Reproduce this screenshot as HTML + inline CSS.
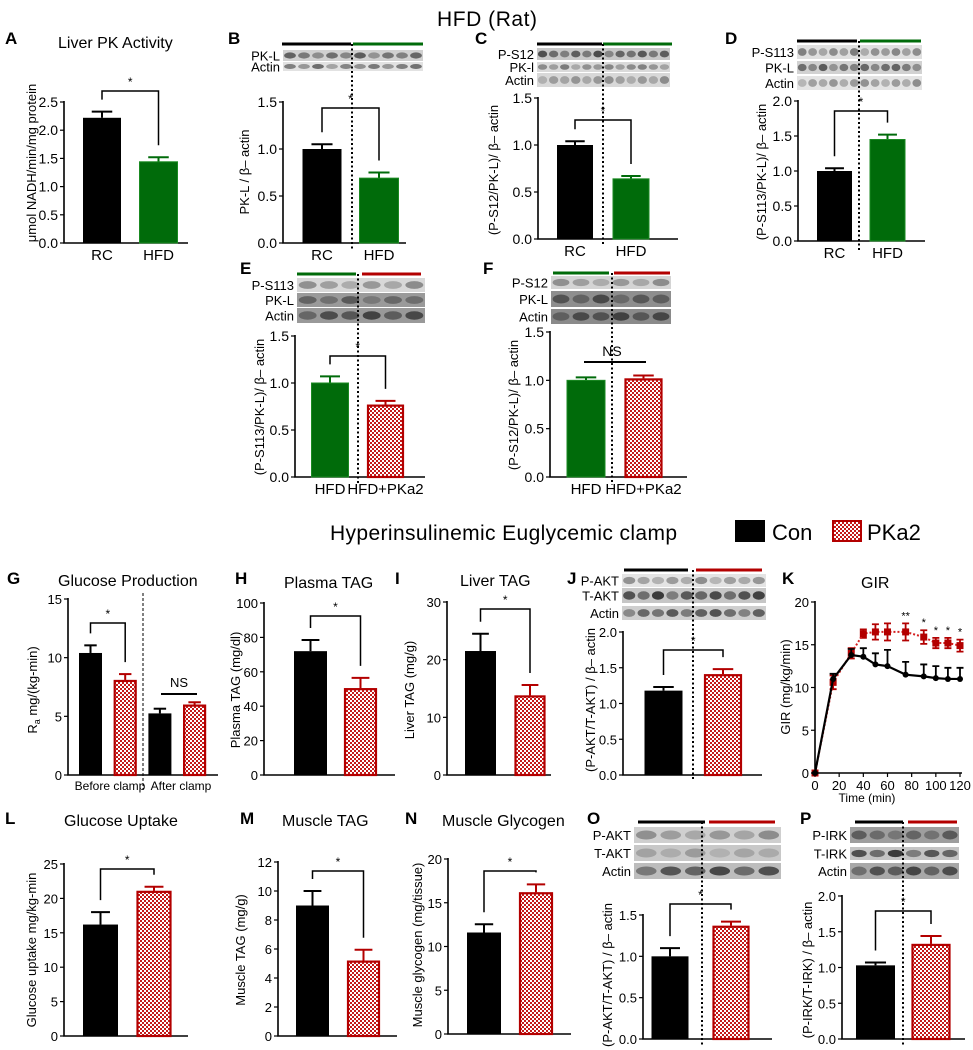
<!DOCTYPE html>
<html><head><meta charset="utf-8"><title>HFD (Rat) figure</title>
<style>
html,body{margin:0;padding:0;background:#fff;}
svg{display:block;font-family:"Liberation Sans",Arial,sans-serif;}
</style></head>
<body>
<svg id="fig" width="973" height="1050" viewBox="0 0 973 1050" xmlns="http://www.w3.org/2000/svg">
<defs>
<pattern id="chk" width="4" height="4" patternUnits="userSpaceOnUse"><rect width="4" height="4" fill="#fff"/><rect width="2" height="2" fill="#c41a1a"/><rect x="2" y="2" width="2" height="2" fill="#c41a1a"/></pattern>
</defs>
<text x="437" y="26" font-size="21" textLength="100">HFD (Rat)</text>
<text x="330" y="540" font-size="21" textLength="347">Hyperinsulinemic Euglycemic clamp</text>
<g>
<rect x="735" y="520" width="30" height="22" fill="#000"/>
<text x="772" y="540" font-size="22">Con</text>
<rect x="833" y="521" width="28" height="20" fill="url(#chk)" stroke="#b30000" stroke-width="2"/>
<text x="867" y="540" font-size="22">PKa2</text>
</g>
</svg>
<script>
// ---------- data ----------
const A_cats=["RC","HFD"]; const A_vals=[2.22,1.44]; const A_errs=[0.11,0.08];
const A_ticks=["0.0","0.5","1.0","1.5","2.0","2.5"];
const B_cats=["RC","HFD"]; const B_vals=[1.0,0.69]; const B_errs=[0.05,0.06];
const B_ticks=["0.0","0.5","1.0","1.5"];
const C_cats=["RC","HFD"]; const C_vals=[1.0,0.64]; const C_errs=[0.04,0.03];
const C_ticks=["0.0","0.5","1.0","1.5"];
const D_cats=["RC","HFD"]; const D_vals=[1.0,1.45]; const D_errs=[0.04,0.07];
const D_ticks=["0.0","0.5","1.0","1.5","2.0"];
const E_cats=["HFD","HFD+PKa2"]; const E_vals=[1.0,0.77]; const E_errs=[0.07,0.04];
const E_ticks=["0.0","0.5","1.0","1.5"];
const F_cats=["HFD","HFD+PKa2"]; const F_vals=[1.0,1.02]; const F_errs=[0.03,0.03];
const F_ticks=["0.0","0.5","1.0","1.5"];
const G_vals=[10.4,8.1,5.25,6.0]; const G_errs=[0.65,0.5,0.4,0.2];
const G_ticks=["0","5","10","15"];
const H_vals=[72,50.5]; const H_errs=[6.5,6]; const H_ticks=["0","20","40","60","80","100"];
const I_vals=[21.5,13.8]; const I_errs=[3,1.8]; const I_ticks=["0","10","20","30"];
const J_vals=[1.18,1.41]; const J_errs=[0.05,0.07]; const J_ticks=["0.0","0.5","1.0","1.5","2.0"];
const K_time=[0,15,30,40,50,60,75,90,100,110,120];
const K_con=[0,11,13.8,13.6,12.7,12.5,11.5,11.3,11.1,11.0,11.0];
const K_conErr=[0,0.6,0.7,1.0,1.3,1.9,1.5,1.4,1.4,1.3,1.3];
const K_pka=[0,10.6,14.0,16.3,16.5,16.5,16.5,15.9,15.2,15.2,14.9];
const K_pkaErr=[0.3,0.8,0.6,0.5,0.9,1.0,1.0,0.8,0.6,0.6,0.7];
const K_sigTimes=[75,90,100,110,120]; const K_sigMarks=["**","*","*","*","*"];
const K_yticks=["0","5","10","15","20"]; const K_xticks=["0","20","40","60","80","100","120"];
const L_vals=[16.2,21.1]; const L_errs=[1.8,0.6]; const L_ticks=["0","5","10","15","20","25"];
const M_vals=[9.0,5.2]; const M_errs=[1.0,0.75]; const M_ticks=["0","2","4","6","8","10","12"];
const N_vals=[11.6,16.2]; const N_errs=[0.95,0.9]; const N_ticks=["0","5","10","15","20"];
const O_vals=[1.0,1.37]; const O_errs=[0.1,0.05]; const O_ticks=["0.0","0.5","1.0","1.5"];
const P_vals=[1.03,1.33]; const P_errs=[0.04,0.11]; const P_ticks=["0.0","0.5","1.0","1.5","2.0"];

// ---------- helpers ----------
const NS="http://www.w3.org/2000/svg";
const svg=document.getElementById('fig');
function mk(tag,attrs,parent){const e=document.createElementNS(NS,tag);for(const k in attrs)e.setAttribute(k,attrs[k]);(parent||svg).appendChild(e);return e;}
function tx(x,y,s,size,anchor,parent,extra){const e=mk('text',Object.assign({x:x,y:y,'font-size':size,'text-anchor':anchor||'start'},extra||{}),parent);e.textContent=s;return e;}
const GREEN="#006b0a", RED="#b30000";

function panelGroup(name){const g=mk('g',{});


return g;}

function letter(g,ch,x,y){const t=tx(x,y,ch,17,'start',g,{'font-weight':'bold'});

}
function title(g,s,x,y){const t=tx(x,y,s,16,'start',g);

}
function ylab(g,s,cx,cy,size){const t=tx(0,0,s,size||13,'middle',g,{transform:'translate('+cx+','+cy+') rotate(-90)'});

return t;}

function barPanel(g,p){
  const vTop=parseFloat(p.ticks[p.ticks.length-1]);
  const ys=v=>p.y0-v/vTop*(p.y0-p.yTop);
  const xc=i=>p.c0+i*p.step;
  p.ys=ys;p.xc=xc;
  const ax=mk('path',{d:'M'+p.axisX+','+(p.yTop-1)+'V'+p.y0+'H'+p.xEnd,stroke:'#000','stroke-width':1.6,fill:'none'},g);
  
  
  p.ticks.forEach(t=>{const v=parseFloat(t);const y=ys(v);
    const tk=mk('line',{x1:p.axisX-4,x2:p.axisX,y1:y,y2:y,stroke:'#000','stroke-width':1.2},g);
    
    
    const tl=tx(p.axisX-6,y+5,t,p.tf||14,'end',g);
    
    });
  p.vals.forEach((v,i)=>{
    const col=p.colors[i]; const x=xc(i)-p.bw/2; const yv=ys(v); const ye=ys(v+p.errs[i]);
    const ecol=col==='pka'?RED:col;
    const el=mk('line',{x1:xc(i),x2:xc(i),y1:yv,y2:ye,stroke:ecol,'stroke-width':2},g);
    
    
    const ec=mk('line',{x1:xc(i)-p.bw*0.27,x2:xc(i)+p.bw*0.27,y1:ye,y2:ye,stroke:ecol,'stroke-width':2},g);
    
    
    let r;
    if(col==='pka'){r=mk('rect',{x:x+1,y:yv+1,width:p.bw-2,height:Math.max(0,p.y0-yv-1),fill:'url(#chk)',stroke:RED,'stroke-width':2.2},g);}
    else{r=mk('rect',{x:x,y:yv,width:p.bw,height:p.y0-yv,fill:col,stroke:col==='#000'?'#000':'#1a8a22','stroke-width':col==='#000'?0:1},g);}
    
    
  });
  if(p.cats){p.cats.forEach((c,i)=>{const t=tx(xc(i),p.y0+17,c,p.cf||15,'middle',g);
    
    });}
}
function bracket(g,p,i,j,y,mark){
  const d1=p.ys(p.vals[i]+p.errs[i])-12, d2=p.ys(p.vals[j]+p.errs[j])-12;
  const b=mk('path',{d:'M'+p.xc(i)+','+d1+'V'+y+'H'+p.xc(j)+'V'+d2,stroke:'#000','stroke-width':1.5,fill:'none'},g);
  
  
  const s=tx((p.xc(i)+p.xc(j))/2,y-5,mark||'*',12,'middle',g);
  
  
}
function dotted(g,x,y1,y2){const l=mk('line',{x1:x,x2:x,y1:y1,y2:y2,stroke:'#000','stroke-width':2,'stroke-dasharray':'2,2.5'},g);
  
  }
const laneShade=[0.9,0.7,0.55,0.8,0.6,0.95,0.5,0.75,0.65,0.85,0.6,0.8];
function blot(g,b){
  const lw=(b.x2-b.x1)/b.lanes;
  b.rows.forEach((r,ri)=>{
    const rr=mk('rect',{x:b.x1,y:r[0],width:b.x2-b.x1,height:r[1]-r[0],fill:r[3]},g);
    
    
    for(let k=0;k<b.lanes;k++){const e=mk('ellipse',{cx:b.x1+lw*(k+0.5),cy:(r[0]+r[1])/2,rx:lw*0.42,ry:(r[1]-r[0])*0.28,fill:r[4],opacity:laneShade[(k+ri*3)%12]},g);
      
      }
    const t=tx(b.x1-3,(r[0]+r[1])/2+5,r[2],13,'end',g);
    
    
  });
  b.segs.forEach(s=>{const l=mk('line',{x1:s[0],x2:s[1],y1:b.ly,y2:b.ly,stroke:s[2],'stroke-width':3},g);
    
    });
}

// ---------- A ----------
let g=panelGroup('panel-a-liver-pk-activity');
letter(g,'A',5,44); title(g,'Liver PK Activity',58,48);
let p={ticks:A_ticks,vals:A_vals,errs:A_errs,cats:A_cats,colors:['#000',GREEN],names:['rc','hfd'],axisX:64,xEnd:188,y0:243,yTop:102,c0:102,step:56.5,bw:38};
barPanel(g,p); bracket(g,p,0,1,91); ylab(g,'μmol NADH/min/mg protein',36,163);

// ---------- B ----------
g=panelGroup('panel-b-pkl');
letter(g,'B',228,44);
blot(g,{x1:283,x2:423,lanes:10,ly:44,rows:[[50,61,'PK-L','#d0d0d0','#555'],[62,71,'Actin','#e2e2e2','#666']],segs:[[282,351,'#000'],[353,423,GREEN]]});
p={ticks:B_ticks,vals:B_vals,errs:B_errs,cats:B_cats,colors:['#000',GREEN],names:['rc','hfd'],axisX:283,xEnd:406,y0:243,yTop:102,c0:322,step:57,bw:39};
barPanel(g,p); dotted(g,352,44,250); bracket(g,p,0,1,108); ylab(g,'PK-L / β– actin',249,172);

// ---------- C ----------
g=panelGroup('panel-c-ps12');
letter(g,'C',475,44);
blot(g,{x1:537,x2:670,lanes:12,ly:44,rows:[[48,60,'P-S12','#c8c8c8','#444'],[62,72,'PK-l','#dadada','#777'],[73,87,'Actin','#d8d8d8','#888']],segs:[[537,602,'#000'],[603,672,GREEN]]});
p={ticks:C_ticks,vals:C_vals,errs:C_errs,cats:C_cats,colors:['#000',GREEN],names:['rc','hfd'],axisX:538,xEnd:678,y0:239,yTop:98,c0:575,step:56,bw:36};
barPanel(g,p); dotted(g,603,44,245); bracket(g,p,0,1,120); ylab(g,'(P-S12/PK-L)/ β– actin',498,170);

// ---------- D ----------
g=panelGroup('panel-d-ps113');
letter(g,'D',725,44);
blot(g,{x1:797,x2:922,lanes:12,ly:41,rows:[[45,59,'P-S113','#e0e0e0','#777'],[61,74,'PK-L','#d2d2d2','#555'],[76,90,'Actin','#e4e4e4','#888']],segs:[[797,857,'#000'],[860,921,GREEN]]});
p={ticks:D_ticks,vals:D_vals,errs:D_errs,cats:D_cats,colors:['#000',GREEN],names:['rc','hfd'],axisX:798,xEnd:925,y0:241,yTop:101,c0:834.5,step:53,bw:35};
barPanel(g,p); dotted(g,859,41,250); bracket(g,p,0,1,111); ylab(g,'(P-S113/PK-L)/ β– actin',766,172);

// ---------- E ----------
g=panelGroup('panel-e-ps113-pka2');
letter(g,'E',240,274);
blot(g,{x1:297,x2:425,lanes:6,ly:274,rows:[[278,292,'P-S113','#d8d8d8','#888'],[293,307,'PK-L','#9a9a9a','#555'],[308,323,'Actin','#999','#333']],segs:[[297,356,GREEN],[362,421,RED]]});
p={ticks:E_ticks,vals:E_vals,errs:E_errs,cats:E_cats,colors:[GREEN,'pka'],names:['hfd','hfd-pka2'],axisX:295,xEnd:425,y0:477,yTop:336,c0:330,step:55.5,bw:37};
barPanel(g,p); dotted(g,358,274,485); bracket(g,p,0,1,356); ylab(g,'(P-S113/PK-L)/ β– actin',264,407);

// ---------- F ----------
g=panelGroup('panel-f-ps12-pka2');
letter(g,'F',483,274);
blot(g,{x1:551,x2:671,lanes:6,ly:273,rows:[[276,289,'P-S12','#d4d4d4','#888'],[291,307,'PK-L','#8e8e8e','#444'],[309,324,'Actin','#8a8a8a','#333']],segs:[[553,609,GREEN],[614,670,RED]]});
p={ticks:F_ticks,vals:F_vals,errs:F_errs,cats:F_cats,colors:[GREEN,'pka'],names:['hfd','hfd-pka2'],axisX:550,xEnd:687,y0:477,yTop:332,c0:586,step:57.5,bw:38};
barPanel(g,p); dotted(g,612,273,485);
let ns=mk('line',{x1:584,x2:646,y1:362,y2:362,stroke:'#000','stroke-width':2},g);


let nst=tx(612,356,'NS',14,'middle',g);


ylab(g,'(P-S12/PK-L)/ β– actin',518,405);

// ---------- G ----------
g=panelGroup('panel-g-glucose-production');
letter(g,'G',7,584); title(g,'Glucose Production',58,586);
p={ticks:G_ticks,vals:G_vals,errs:G_errs,colors:['#000','pka','#000','pka'],names:['before-con','before-pka2','after-con','after-pka2'],axisX:68,xEnd:218,y0:775,yTop:599,c0:90.5,step:34.7,bw:23,tf:13};
barPanel(g,p);
let gd=mk('line',{x1:143,x2:143,y1:593,y2:790,stroke:'#000','stroke-width':1,'stroke-dasharray':'3,2'},g);


bracket(g,p,0,1,623);
ns=mk('line',{x1:161,x2:197,y1:694,y2:694,stroke:'#000','stroke-width':2},g);


nst=tx(179,687,'NS',13,'middle',g);


let cl=tx(110,790,'Before clamp',12,'middle',g);


cl=tx(181,790,'After clamp',12,'middle',g);


let yl=ylab(g,'',37,690,13);
yl.innerHTML='R<tspan font-size="9" dy="3">a</tspan><tspan dy="-3"> mg/(kg-min)</tspan>';

// ---------- H ----------
g=panelGroup('panel-h-plasma-tag');
letter(g,'H',235,584); title(g,'Plasma TAG',284,588);
p={ticks:H_ticks,vals:H_vals,errs:H_errs,colors:['#000','pka'],names:['con','pka2'],axisX:264,xEnd:395,y0:775,yTop:603,c0:310.5,step:50,bw:33,tf:13};
barPanel(g,p); bracket(g,p,0,1,616); ylab(g,'Plasma TAG (mg/dl)',240,690);

// ---------- I ----------
g=panelGroup('panel-i-liver-tag');
letter(g,'I',395,584); title(g,'Liver TAG',460,586);
p={ticks:I_ticks,vals:I_vals,errs:I_errs,colors:['#000','pka'],names:['con','pka2'],axisX:447,xEnd:551,y0:775,yTop:602,c0:480.5,step:49.5,bw:31,tf:13};
barPanel(g,p); bracket(g,p,0,1,609); ylab(g,'Liver TAG (mg/g)',414,690);

// ---------- J ----------
g=panelGroup('panel-j-pakt-liver');
letter(g,'J',567,584);
blot(g,{x1:622,x2:766,lanes:10,ly:570,rows:[[574,587,'P-AKT','#e4e4e4','#888'],[588,603,'T-AKT','#c6c6c6','#333'],[606,620,'Actin','#cfcfcf','#444']],segs:[[624,688,'#000'],[696,762,RED]]});
p={ticks:J_ticks,vals:J_vals,errs:J_errs,colors:['#000','pka'],names:['con','pka2'],axisX:623,xEnd:762,y0:775,yTop:632,c0:663.5,step:59.5,bw:38,tf:13};
barPanel(g,p); dotted(g,693,570,780); bracket(g,p,0,1,650); ylab(g,'(P-AKT/T-AKT) / β– actin',595,700);

// ---------- K (GIR line chart) ----------
g=panelGroup('panel-k-gir');
letter(g,'K',782,584); title(g,'GIR',861,588);
const kx=t=>815+t/120*(960-815);
const ky=v=>773-v/20*(773-602);
let kax=mk('path',{d:'M815,601V773H962',stroke:'#000','stroke-width':1.6,fill:'none'},g);


K_yticks.forEach(t=>{const y=ky(parseFloat(t));
  const l=mk('line',{x1:811,x2:815,y1:y,y2:y,stroke:'#000','stroke-width':1.2},g);
  
  
  const s=tx(809,y+5,t,13,'end',g);
  
  });
K_xticks.forEach(t=>{const x=kx(parseFloat(t));
  const l=mk('line',{x1:x,x2:x,y1:773,y2:777,stroke:'#000','stroke-width':1.2},g);
  
  
  const s=tx(x,790,t,13,'middle',g);
  
  });
let xt=tx(867,802,'Time (min)',12,'middle',g);


ylab(g,'GIR (mg/kg/min)',790,687);
// PKa2 series
K_time.forEach((t,i)=>{const x=kx(t);
  const e=mk('path',{d:'M'+(x-3.5)+','+ky(K_pka[i]-K_pkaErr[i])+'H'+(x+3.5)+'M'+x+','+ky(K_pka[i]-K_pkaErr[i])+'V'+ky(K_pka[i]+K_pkaErr[i])+'M'+(x-3.5)+','+ky(K_pka[i]+K_pkaErr[i])+'H'+(x+3.5),stroke:RED,'stroke-width':1.8,fill:'none'},g);
  
  });
let pts=K_time.map((t,i)=>kx(t)+','+ky(K_pka[i])).join(' ');
let pl=mk('polyline',{points:pts,fill:'none',stroke:'#d42020','stroke-width':2,'stroke-dasharray':'2,2'},g);


K_time.forEach((t,i)=>{const m=mk('rect',{x:kx(t)-3.5,y:ky(K_pka[i])-3.5,width:7,height:7,fill:RED},g);
  
  });
// Con series
K_time.forEach((t,i)=>{const x=kx(t);
  const e=mk('path',{d:'M'+x+','+ky(K_con[i])+'V'+ky(K_con[i]+K_conErr[i])+'M'+(x-3.5)+','+ky(K_con[i]+K_conErr[i])+'H'+(x+3.5),stroke:'#000','stroke-width':1.8,fill:'none'},g);
  
  });
pts=K_time.map((t,i)=>kx(t)+','+ky(K_con[i])).join(' ');
pl=mk('polyline',{points:pts,fill:'none',stroke:'#000','stroke-width':2.2},g);


K_time.forEach((t,i)=>{const m=mk('circle',{cx:kx(t),cy:ky(K_con[i]),r:3,fill:'#000'},g);
  
  });
K_sigTimes.forEach((t,i)=>{const idx=K_time.indexOf(t);
  const s=tx(kx(t),ky(K_pka[idx]+K_pkaErr[idx])-4,K_sigMarks[i],11,'middle',g);
  
  });

// ---------- L ----------
g=panelGroup('panel-l-glucose-uptake');
letter(g,'L',5,824); title(g,'Glucose Uptake',64,826);
p={ticks:L_ticks,vals:L_vals,errs:L_errs,colors:['#000','pka'],names:['con','pka2'],axisX:64,xEnd:188,y0:1036,yTop:864,c0:100.5,step:53.5,bw:35,tf:13};
barPanel(g,p); bracket(g,p,0,1,869); ylab(g,'Glucose uptake mg/kg-min',36,950);

// ---------- M ----------
g=panelGroup('panel-m-muscle-tag');
letter(g,'M',240,824); title(g,'Muscle TAG',282,826);
p={ticks:M_ticks,vals:M_vals,errs:M_errs,colors:['#000','pka'],names:['con','pka2'],axisX:278,xEnd:397,y0:1036,yTop:862,c0:312.5,step:51,bw:33,tf:13};
barPanel(g,p); bracket(g,p,0,1,871); ylab(g,'Muscle TAG (mg/g)',245,950);

// ---------- N ----------
g=panelGroup('panel-n-muscle-glycogen');
letter(g,'N',405,824); title(g,'Muscle Glycogen',442,826);
p={ticks:N_ticks,vals:N_vals,errs:N_errs,colors:['#000','pka'],names:['con','pka2'],axisX:448,xEnd:571,y0:1034,yTop:859,c0:484,step:52,bw:34,tf:13};
barPanel(g,p); bracket(g,p,0,1,871); ylab(g,'Muscle glycogen (mg/tissue)',422,945);

// ---------- O ----------
g=panelGroup('panel-o-pakt-muscle');
letter(g,'O',587,824);
blot(g,{x1:634,x2:781,lanes:6,ly:822,rows:[[827,843,'P-AKT','#cfcfcf','#888'],[845,861,'T-AKT','#c8c8c8','#999'],[863,879,'Actin','#bdbdbd','#333']],segs:[[638,705,'#000'],[709,775,RED]]});
p={ticks:O_ticks,vals:O_vals,errs:O_errs,colors:['#000','pka'],names:['con','pka2'],axisX:643,xEnd:772,y0:1039,yTop:915,c0:670,step:61,bw:37,tf:13};
barPanel(g,p); dotted(g,702,822,1045); bracket(g,p,0,1,904); ylab(g,'(P-AKT/T-AKT) / β– actin',612,975);

// ---------- P ----------
g=panelGroup('panel-p-pirk-muscle');
letter(g,'P',800,824);
blot(g,{x1:850,x2:959,lanes:6,ly:822,rows:[[827,843,'P-IRK','#9e9e9e','#555'],[847,860,'T-IRK','#c4c4c4','#333'],[863,879,'Actin','#a8a8a8','#333']],segs:[[855,903,'#000'],[908,957,RED]]});
p={ticks:P_ticks,vals:P_vals,errs:P_errs,colors:['#000','pka'],names:['con','pka2'],axisX:842,xEnd:965,y0:1039,yTop:896,c0:875.5,step:55.5,bw:39,tf:13};
barPanel(g,p); dotted(g,903,822,1045); bracket(g,p,0,1,911); ylab(g,'(P-IRK/T-IRK) / β– actin',812,970);
</script>
</body></html>
